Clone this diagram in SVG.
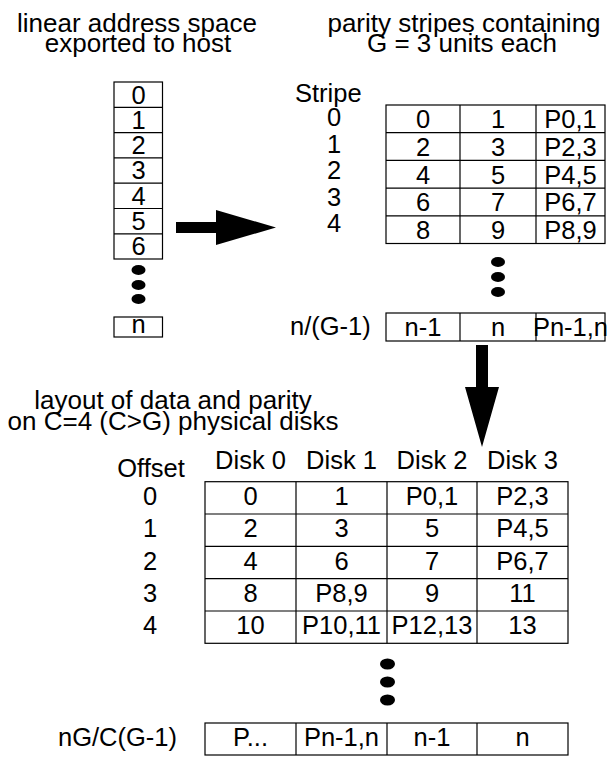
<svg xmlns="http://www.w3.org/2000/svg" width="613" height="761" viewBox="0 0 613 761">
<style>
  text { font-family: "Liberation Sans", Arial, sans-serif; font-size: 25.5px; fill: #000; }
  .t { font-size: 26px; }
  .c { text-anchor: middle; }
  .cell { fill: #fff; stroke: #000; stroke-width: 1.2; }
  .ln { stroke: #000; stroke-width: 1.2; }
  .dot { fill: #000; }
  .arrow { fill: #000; }
</style>

<g id="title-linear">
  <text class="c t" x="137" y="31.5">linear address space</text>
  <text class="c t" x="138" y="51.5">exported to host</text>
</g>
<g id="title-parity">
  <text class="c t" x="464" y="31.5">parity stripes containing</text>
  <text class="c t" x="462" y="52">G = 3 units each</text>
</g>

<g id="linear-space">
  <rect class="cell" x="114" y="82" width="48.5" height="177"/>
  <line class="ln" x1="114" y1="107.3" x2="162.5" y2="107.3"/>
  <line class="ln" x1="114" y1="132.6" x2="162.5" y2="132.6"/>
  <line class="ln" x1="114" y1="157.9" x2="162.5" y2="157.9"/>
  <line class="ln" x1="114" y1="183.2" x2="162.5" y2="183.2"/>
  <line class="ln" x1="114" y1="208.5" x2="162.5" y2="208.5"/>
  <line class="ln" x1="114" y1="233.8" x2="162.5" y2="233.8"/>
  <text class="c" x="138.5" y="103.5">0</text>
  <text class="c" x="138.5" y="128.8">1</text>
  <text class="c" x="138.5" y="154.1">2</text>
  <text class="c" x="138.5" y="179.4">3</text>
  <text class="c" x="138.5" y="204.7">4</text>
  <text class="c" x="138.5" y="230">5</text>
  <text class="c" x="138.5" y="255.3">6</text>
  <ellipse class="dot" cx="138.5" cy="270" rx="7" ry="5"/>
  <ellipse class="dot" cx="138.5" cy="285" rx="7" ry="5"/>
  <ellipse class="dot" cx="138.5" cy="299" rx="7" ry="5"/>
  <rect class="cell" x="114" y="317" width="48.5" height="20"/>
  <text class="c" x="138.5" y="333">n</text>
</g>

<g id="parity-stripes">
  <text x="295" y="101.5">Stripe</text>
  <text class="c" x="334" y="126">0</text>
  <text class="c" x="334" y="152.5">1</text>
  <text class="c" x="334" y="179">2</text>
  <text class="c" x="334" y="205.5">3</text>
  <text class="c" x="334" y="232">4</text>
  <rect class="cell" x="386" y="105" width="219" height="138.5"/>
  <line class="ln" x1="386" y1="132.7" x2="605" y2="132.7"/>
  <line class="ln" x1="386" y1="160.4" x2="605" y2="160.4"/>
  <line class="ln" x1="386" y1="188.1" x2="605" y2="188.1"/>
  <line class="ln" x1="386" y1="215.8" x2="605" y2="215.8"/>
  <line class="ln" x1="460" y1="105" x2="460" y2="243.5"/>
  <line class="ln" x1="536" y1="105" x2="536" y2="243.5"/>
  <text class="c" x="423" y="128.3">0</text><text class="c" x="498" y="128.3">1</text><text class="c" x="570.5" y="128.3">P0,1</text>
  <text class="c" x="423" y="156">2</text><text class="c" x="498" y="156">3</text><text class="c" x="570.5" y="156">P2,3</text>
  <text class="c" x="423" y="183.7">4</text><text class="c" x="498" y="183.7">5</text><text class="c" x="570.5" y="183.7">P4,5</text>
  <text class="c" x="423" y="211.4">6</text><text class="c" x="498" y="211.4">7</text><text class="c" x="570.5" y="211.4">P6,7</text>
  <text class="c" x="423" y="239.1">8</text><text class="c" x="498" y="239.1">9</text><text class="c" x="570.5" y="239.1">P8,9</text>
  <ellipse class="dot" cx="498" cy="262" rx="7" ry="5"/>
  <ellipse class="dot" cx="498" cy="277" rx="7" ry="5"/>
  <ellipse class="dot" cx="498" cy="292" rx="7" ry="5"/>
  <text x="290" y="335">n/(G-1)</text>
  <rect class="cell" x="386" y="313" width="219" height="28"/>
  <line class="ln" x1="460" y1="313" x2="460" y2="341"/>
  <line class="ln" x1="536" y1="313" x2="536" y2="341"/>
  <text class="c" x="423" y="336">n-1</text>
  <text class="c" x="498" y="336">n</text>
  <text class="c" x="570.5" y="336">Pn-1,n</text>
</g>

<g id="title-layout">
  <text class="c t" x="173" y="409">layout of data and parity</text>
  <text class="c t" x="173" y="429.5">on C=4 (C&gt;G) physical disks</text>
</g>

<g id="disk-layout">
  <text class="c" x="151" y="477">Offset</text>
  <text class="c" x="250.5" y="469">Disk 0</text>
  <text class="c" x="341.5" y="469">Disk 1</text>
  <text class="c" x="432" y="469">Disk 2</text>
  <text class="c" x="522.5" y="469">Disk 3</text>
  <text class="c" x="150" y="505">0</text>
  <text class="c" x="150" y="537.3">1</text>
  <text class="c" x="150" y="569.6">2</text>
  <text class="c" x="150" y="601.9">3</text>
  <text class="c" x="150" y="634.2">4</text>
  <rect class="cell" x="205" y="481.7" width="363" height="161.6"/>
  <line class="ln" x1="205" y1="514" x2="568" y2="514"/>
  <line class="ln" x1="205" y1="546.3" x2="568" y2="546.3"/>
  <line class="ln" x1="205" y1="578.6" x2="568" y2="578.6"/>
  <line class="ln" x1="205" y1="611" x2="568" y2="611"/>
  <line class="ln" x1="296" y1="481.7" x2="296" y2="643.3"/>
  <line class="ln" x1="387" y1="481.7" x2="387" y2="643.3"/>
  <line class="ln" x1="477" y1="481.7" x2="477" y2="643.3"/>
  <text class="c" x="250.5" y="505">0</text><text class="c" x="341.5" y="505">1</text><text class="c" x="432" y="505">P0,1</text><text class="c" x="522.5" y="505">P2,3</text>
  <text class="c" x="250.5" y="537.3">2</text><text class="c" x="341.5" y="537.3">3</text><text class="c" x="432" y="537.3">5</text><text class="c" x="522.5" y="537.3">P4,5</text>
  <text class="c" x="250.5" y="569.6">4</text><text class="c" x="341.5" y="569.6">6</text><text class="c" x="432" y="569.6">7</text><text class="c" x="522.5" y="569.6">P6,7</text>
  <text class="c" x="250.5" y="601.9">8</text><text class="c" x="341.5" y="601.9">P8,9</text><text class="c" x="432" y="601.9">9</text><text class="c" x="522.5" y="601.9">11</text>
  <text class="c" x="250.5" y="634.2">10</text><text class="c" x="341.5" y="634.2">P10,11</text><text class="c" x="432" y="634.2">P12,13</text><text class="c" x="522.5" y="634.2">13</text>
  <ellipse class="dot" cx="387.5" cy="664" rx="7.5" ry="5.5"/>
  <ellipse class="dot" cx="387.5" cy="682" rx="7.5" ry="5.5"/>
  <ellipse class="dot" cx="387.5" cy="700" rx="7.5" ry="5.5"/>
  <text x="58" y="746">nG/C(G-1)</text>
  <rect class="cell" x="205" y="723" width="363" height="32"/>
  <line class="ln" x1="296" y1="723" x2="296" y2="755"/>
  <line class="ln" x1="387" y1="723" x2="387" y2="755"/>
  <line class="ln" x1="477" y1="723" x2="477" y2="755"/>
  <text class="c" x="250.5" y="746">P...</text>
  <text class="c" x="341.5" y="746">Pn-1,n</text>
  <text class="c" x="432" y="746">n-1</text>
  <text class="c" x="522.5" y="746">n</text>
</g>

<g id="connectors">
  <polygon class="arrow" points="176,222 216,222 216,210 276,227.5 216,245 216,233 176,233"/>
  <polygon class="arrow" points="476,345 488,345 488,387 499,387 482,447 465,387 476,387"/>
</g>
</svg>
